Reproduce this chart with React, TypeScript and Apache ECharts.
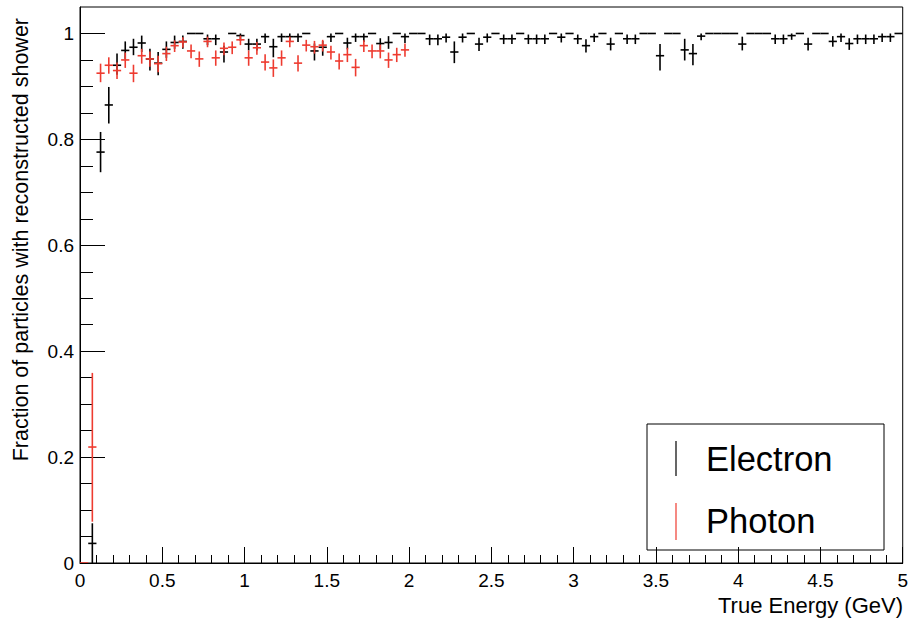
import React, { useEffect, useRef } from "react";
import * as echarts from "echarts";

// Histogram binning (GeV)
const binWidth = 0.05;

// Electron efficiency per bin, starting at bin 1 (0.05-0.10 GeV) up to bin 99
const electronEff = [
  0.037, 0.776, 0.865, 0.94, 0.968, 0.974, 0.982, 0.952, 0.944, 0.97,
  0.983, 0.985, 1, 1, 0.99, 0.99, 0.965, 1, 0.996, 0.98,
  0.98, 0.994, 0.975, 0.994, 0.994, 0.994, 1, 0.967, 0.974, 0.994,
  1, 0.982, 0.994, 0.994, 1, 0.981, 0.983, 1, 0.994, 1,
  1, 0.99, 0.99, 0.993, 0.965, 0.993, 1, 0.98, 0.993, 1,
  0.99, 0.99, 1, 0.99, 0.99, 0.99, 1, 0.993, 1, 0.99,
  0.977, 0.994, 1, 0.98, 1, 0.99, 0.99, 1, 1, 0.958,
  1, 1, 0.969, 0.962, 0.995, 1, 1, 1, 1, 0.98,
  1, 1, 1, 0.99, 0.99, 0.996, 1, 0.98, 1, 1,
  0.985, 0.994, 0.981, 0.99, 0.99, 0.99, 0.994, 0.994, 1,
];
const electronErrLow = [
  0.037, 0.038, 0.035, 0.018, 0.016, 0.015, 0.017, 0.022, 0.023, 0.016,
  0.012, 0.014, 0, 0, 0.012, 0.012, 0.02, 0, 0.01, 0.012,
  0.012, 0.012, 0.02, 0.01, 0.01, 0.01, 0, 0.018, 0.016, 0.01,
  0, 0.012, 0.01, 0.01, 0, 0.012, 0.012, 0, 0.012, 0,
  0, 0.012, 0.012, 0.01, 0.021, 0.01, 0, 0.013, 0.01, 0,
  0.01, 0.01, 0, 0.01, 0.01, 0.01, 0, 0.01, 0, 0.01,
  0.013, 0.01, 0, 0.012, 0, 0.01, 0.01, 0, 0, 0.028,
  0, 0, 0.02, 0.022, 0.008, 0, 0, 0, 0, 0.012,
  0, 0, 0, 0.01, 0.01, 0.008, 0, 0.012, 0, 0,
  0.01, 0.01, 0.012, 0.01, 0.01, 0.01, 0.01, 0.01, 0,
];
const electronErrHigh = [
  0.038, 0.038, 0.034, 0.022, 0.017, 0.016, 0.014, 0.019, 0.021, 0.015,
  0.013, 0.011, 0, 0, 0.008, 0.008, 0.012, 0, 0.004, 0.01,
  0.01, 0.006, 0.015, 0.006, 0.006, 0.006, 0, 0.014, 0.012, 0.006,
  0, 0.01, 0.006, 0.006, 0, 0.01, 0.012, 0, 0.006, 0,
  0, 0.008, 0.008, 0.007, 0.02, 0.007, 0, 0.012, 0.007, 0,
  0.008, 0.008, 0, 0.008, 0.008, 0.008, 0, 0.007, 0, 0.008,
  0.012, 0.006, 0, 0.012, 0, 0.008, 0.008, 0, 0, 0.022,
  0, 0, 0.021, 0.018, 0.005, 0, 0, 0, 0, 0.014,
  0, 0, 0, 0.008, 0.008, 0.004, 0, 0.012, 0, 0,
  0.01, 0.006, 0.01, 0.008, 0.008, 0.008, 0.006, 0.006, 0,
];

// Photon efficiency per bin, starting at bin 0 (0-0.05 GeV) up to bin 39
const photonEff = [
  0, 0.219, 0.925, 0.94, 0.93, 0.95, 0.925, 0.958, 0.952, 0.943,
  0.962, 0.977, 0.984, 0.967, 0.952, 0.985, 0.954, 0.972, 0.974, 0.988,
  0.954, 0.973, 0.946, 0.935, 0.954, 0.985, 0.944, 0.978, 0.975, 0.978,
  0.965, 0.948, 0.96, 0.936, 0.977, 0.967, 0.967, 0.95, 0.96, 0.969,
];
const photonErrLow = [
  0, 0.141, 0.017, 0.016, 0.016, 0.015, 0.017, 0.015, 0.015, 0.016,
  0.014, 0.012, 0.011, 0.014, 0.015, 0.011, 0.015, 0.013, 0.013, 0.01,
  0.015, 0.013, 0.016, 0.017, 0.015, 0.011, 0.016, 0.012, 0.013, 0.012,
  0.014, 0.016, 0.014, 0.017, 0.012, 0.014, 0.014, 0.015, 0.014, 0.013,
];
const photonErrHigh = [
  0, 0.14, 0.018, 0.015, 0.015, 0.014, 0.016, 0.013, 0.014, 0.015,
  0.013, 0.01, 0.009, 0.012, 0.014, 0.009, 0.014, 0.011, 0.011, 0.008,
  0.014, 0.011, 0.015, 0.016, 0.014, 0.009, 0.015, 0.01, 0.011, 0.01,
  0.012, 0.014, 0.013, 0.016, 0.01, 0.012, 0.012, 0.014, 0.013, 0.012,
];

const yMajorTicks = [0, 0.2, 0.4, 0.6, 0.8, 1];
const yMinorTicks = [
  0.05, 0.1, 0.15, 0.25, 0.3, 0.35, 0.45, 0.5, 0.55, 0.65, 0.7, 0.75, 0.85, 0.9, 0.95,
];

const FONT = "'Liberation Sans', Arial, Helvetica, sans-serif";
const BLACK = "#000000";
const RED = "#ee3b30";

function buildData(eff: number[], lo: number[], hi: number[], firstBin: number) {
  return eff.map((v, i) => {
    const center = (firstBin + i + 0.5) * binWidth;
    return [center, v, v - lo[i], v + hi[i]];
  });
}

function makeRender(color: string) {
  return (params: any, api: any) => {
    const x = api.value(0);
    const y = api.value(1);
    const lo = api.value(2);
    const hi = api.value(3);
    const pL = api.coord([x - binWidth / 2, y]);
    const pR = api.coord([x + binWidth / 2, y]);
    const pLo = api.coord([x, lo]);
    const pHi = api.coord([x, hi]);
    return {
      type: "group",
      children: [
        {
          type: "line",
          shape: { x1: pL[0], y1: pL[1], x2: pR[0], y2: pR[1] },
          style: { stroke: color, lineWidth: 1.6 },
        },
        {
          type: "line",
          shape: { x1: pLo[0], y1: pLo[1], x2: pHi[0], y2: pHi[1] },
          style: { stroke: color, lineWidth: 1.6 },
        },
      ],
    };
  };
}

export default function App() {
  const ref = useRef<HTMLDivElement>(null);

  useEffect(() => {
    document.body.style.margin = "0";
    if (!ref.current) return;
    const chart = echarts.init(ref.current, undefined, { renderer: "svg" });

    const electronData = buildData(electronEff, electronErrLow, electronErrHigh, 1);
    const photonData = buildData(photonEff, photonErrLow, photonErrHigh, 0);

    const option: any = {
      animation: false,
      backgroundColor: "#ffffff",
      grid: {
        left: 80,
        right: 8,
        top: 7,
        bottom: 58,
        show: true,
        borderColor: BLACK,
        borderWidth: 1,
        backgroundColor: "transparent",
      },
      xAxis: {
        type: "value",
        min: 0,
        max: 5,
        interval: 0.5,
        axisLine: { show: true, lineStyle: { color: BLACK, width: 1 } },
        axisTick: { show: true, inside: true, length: 16, lineStyle: { color: BLACK, width: 1 } },
        minorTick: { show: true, splitNumber: 5, length: 8, lineStyle: { color: BLACK, width: 1 } },
        splitLine: { show: false },
        minorSplitLine: { show: false },
        axisLabel: {
          color: BLACK,
          fontSize: 19,
          fontFamily: FONT,
          margin: 8,
          showMaxLabel: true,
          showMinLabel: true,
        },
      },
      yAxis: [
        {
          type: "value",
          min: 0,
          max: 1.05,
          axisLine: { show: true, lineStyle: { color: BLACK, width: 1 } },
          axisTick: {
            show: true,
            inside: true,
            length: 25,
            customValues: yMajorTicks,
            lineStyle: { color: BLACK, width: 1 },
          },
          splitLine: { show: false },
          axisLabel: {
            color: BLACK,
            fontSize: 19,
            fontFamily: FONT,
            margin: 6,
            customValues: yMajorTicks,
          },
        },
        {
          type: "value",
          min: 0,
          max: 1.05,
          position: "left",
          offset: 0,
          axisLine: { show: false },
          axisTick: {
            show: true,
            inside: true,
            length: 13,
            customValues: yMinorTicks,
            lineStyle: { color: BLACK, width: 1 },
          },
          splitLine: { show: false },
          axisLabel: { show: false },
        },
      ],
      series: [
        {
          name: "Electron",
          type: "custom",
          renderItem: makeRender(BLACK),
          data: electronData,
          encode: { x: 0, y: 1 },
          clip: true,
          z: 2,
        },
        {
          name: "Photon",
          type: "custom",
          renderItem: makeRender(RED),
          data: photonData,
          encode: { x: 0, y: 1 },
          clip: true,
          z: 3,
        },
      ],
      graphic: [
        {
          type: "text",
          x: 903,
          y: 605,
          style: {
            text: "True Energy (GeV)",
            fontSize: 22,
            fontFamily: FONT,
            fill: BLACK,
            align: "right",
            textAlign: "right",
            verticalAlign: "middle",
            textVerticalAlign: "middle",
          },
        },
        {
          type: "text",
          x: 21,
          y: 18,
          rotation: Math.PI / 2,
          style: {
            text: "Fraction of particles with reconstructed shower",
            fontSize: 21.5,
            fontFamily: FONT,
            fill: BLACK,
            align: "right",
            textAlign: "right",
            verticalAlign: "middle",
            textVerticalAlign: "middle",
          },
        },
        {
          type: "group",
          z: 100,
          children: [
            {
              type: "rect",
              shape: { x: 647, y: 424, width: 237, height: 126 },
              style: { fill: "#ffffff", stroke: BLACK, lineWidth: 1 },
            },
            {
              type: "line",
              shape: { x1: 676, y1: 441, x2: 676, y2: 476 },
              style: { stroke: BLACK, lineWidth: 1.2 },
            },
            {
              type: "text",
              x: 706,
              y: 459,
              style: {
                text: "Electron",
                fontSize: 34.5,
                fontFamily: FONT,
                fill: BLACK,
                align: "left",
                textAlign: "left",
                verticalAlign: "middle",
                textVerticalAlign: "middle",
              },
            },
            {
              type: "line",
              shape: { x1: 676, y1: 503, x2: 676, y2: 540 },
              style: { stroke: RED, lineWidth: 1.2 },
            },
            {
              type: "text",
              x: 706,
              y: 521,
              style: {
                text: "Photon",
                fontSize: 34.5,
                fontFamily: FONT,
                fill: BLACK,
                align: "left",
                textAlign: "left",
                verticalAlign: "middle",
                textVerticalAlign: "middle",
              },
            },
          ],
        },
      ],
    };

    chart.setOption(option);
    return () => {
      chart.dispose();
    };
  }, []);

  return (
    <div
      ref={ref}
      style={{ position: "absolute", left: 0, top: 0, width: 911, height: 621 }}
    />
  );
}
